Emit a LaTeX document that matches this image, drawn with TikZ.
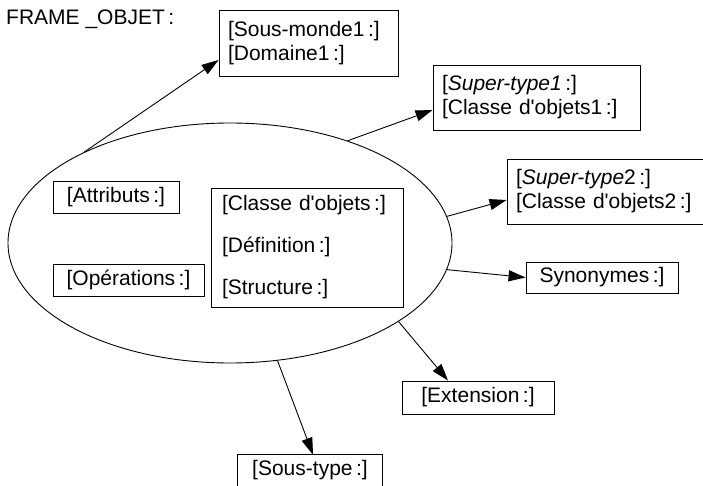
\documentclass[tikz,border=0pt]{standalone}
\usepackage{fontspec}
\setmainfont{Liberation Sans}
\usetikzlibrary{arrows.meta,shapes.geometric}
\newcommand{\ap}{\textquotesingle}
\begin{document}
\begin{tikzpicture}[x=1pt,y=-1pt,
  lbl/.style={font=\fontsize{21}{24}\selectfont},
  box/.style={draw, line width=0.9pt, inner sep=0pt, lbl},
  arr/.style={line width=0.9pt, -{Triangle[length=17pt,width=11pt]}}]
\useasboundingbox (0,0) rectangle (703,486);
\node[lbl, anchor=west, inner sep=0pt] (title) at (6,19) {FRAME \_OBJET\,:};
\node[draw, ellipse, line width=0.9pt, minimum width=444pt, minimum height=240pt, inner sep=0pt] (frame) at (230,243) {};
\node[box, minimum width=179pt, minimum height=66pt, text width=161pt, align=left] (b1) at (308.5,43) {[Sous-monde1\,:]\\{}[Domaine1\,:]};
\node[box, minimum width=207pt, minimum height=65pt, text width=189pt, align=left] (b2) at (536.5,97.5) {[\textit{Super-type1}\,:]\\{}[Classe d\ap objets1\,:]};
\node[box, minimum width=203pt, minimum height=65pt, text width=185pt, align=left] (b3) at (608.5,191.5) {[\textit{Super-type}2\,:]\\{}[Classe d\ap objets2\,:]};
\node[box, minimum width=152pt, minimum height=31pt] (syn) at (602,277.5) {Synonymes\,:]};
\node[box, minimum width=126pt, minimum height=32pt] (attr) at (116,197) {[Attributs\,:]};
\node[box, minimum width=151pt, minimum height=32pt] (oper) at (128.5,280) {[Opérations\,:]};
\node[box, minimum width=192pt, minimum height=119pt, text width=170pt, align=left, font=\fontsize{21}{42}\selectfont] (classe) at (307,247.5) {[Classe d\ap objets\,:]\\{}[Définition\,:]\\{}[Structure\,:]};
\node[box, minimum width=152pt, minimum height=33pt] (ext) at (478,397.5) {[Extension\,:]};
\node[lbl, inner sep=0pt, minimum width=144pt, minimum height=30pt] (sous) at (310,470) {[Sous-type\,:]};
\draw[line width=0.9pt] (sous.north west) rectangle ([yshift=-20pt]sous.south east);
\draw[arr] (frame.148.5) -- ([yshift=-17pt]b1.west);
\draw[arr] (frame.41.3) -- ([yshift=-12.5pt]b2.west);
\draw[arr] (frame.7.75) -- ([yshift=-8.5pt]b3.west);
\draw[arr] (frame.-7.2) -- (syn.west);
\draw[arr] (frame.-25.7) -- ([xshift=-30pt]ext.north);
\draw[arr] (frame.-68) -- ([xshift=3pt]sous.north);
\end{tikzpicture}
\end{document}
